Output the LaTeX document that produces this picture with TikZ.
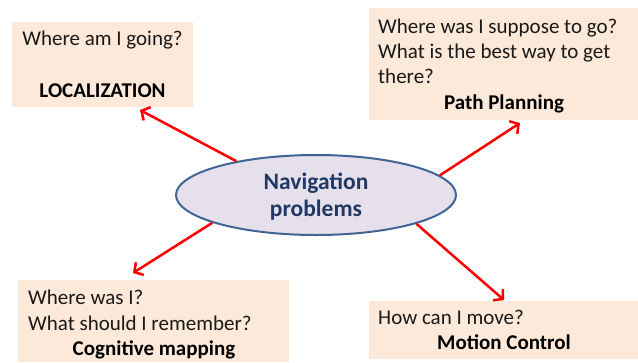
\documentclass[tikz,border=0pt]{standalone}
\usepackage{fontspec}
\setmainfont{Carlito}
\usetikzlibrary{arrows.meta,shapes.geometric}
\definecolor{boxfill}{HTML}{FDE9D9}
\definecolor{ellfill}{HTML}{E6E0EC}
\definecolor{elldraw}{RGB}{65,100,150}
\definecolor{navtext}{RGB}{31,56,100}
\definecolor{arrred}{RGB}{255,0,0}
\begin{document}
\begin{tikzpicture}[x=1pt,y=-1pt,
  box/.style={fill=boxfill,draw=none,inner sep=0pt,anchor=north west},
  txt/.style={inner sep=0pt,anchor=base west,font=\fontsize{21}{26}\selectfont,text=black!90},
  ttl/.style={inner sep=0pt,anchor=base,font=\fontsize{21}{26}\selectfont\bfseries,text=black},
  navlbl/.style={inner sep=0pt,anchor=base,font=\fontsize{23.5}{28}\selectfont\bfseries,text=navtext},
  link/.style={draw=arrred,line width=2.5pt,-{Straight Barb[length=6.5pt,width=15pt]}}
]
\useasboundingbox (0,0) rectangle (638,362);
% boxes
\node[box,minimum width=181pt,minimum height=85pt] (loc) at (12,22) {};
\node[box,minimum width=269pt,minimum height=112pt] (path) at (369,8) {};
\node[box,minimum width=271pt,minimum height=82pt] (cog) at (18,280) {};
\node[box,minimum width=269pt,minimum height=58pt] (mot) at (369,301) {};
% texts
\node[txt,anchor=base] (locq) at (102.5,45) {Where am I going?};
\node[ttl] (loct) at (102.5,97) {LOCALIZATION};
\node[txt] (pathq1) at (378,33) {Where was I suppose to go?};
\node[txt] (pathq2) at (378,58) {What is the best way to get};
\node[txt] (pathq3) at (378,83) {there?};
\node[ttl] (patht) at (504,109) {Path Planning};
\node[txt] (cogq1) at (28,304) {Where was I?};
\node[txt] (cogq2) at (28,330) {What should I remember?};
\node[ttl] (cogt) at (154,355) {Cognitive mapping};
\node[txt] (motq) at (378,324) {How can I move?};
\node[ttl] (mott) at (504,349) {Motion Control};
% central ellipse
\node[ellipse,fill=ellfill,draw=elldraw,line width=2pt,minimum width=280pt,minimum height=80pt,inner sep=0pt] (nav) at (316,195) {};
\node[navlbl] (navt1) at (316,189) {Navigation};
\node[navlbl] (navt2) at (316,216) {problems};
% arrow ends
\coordinate (tloc) at (140,110);
\coordinate (tpath) at (520,123);
\coordinate (tcog) at (133,273);
\coordinate (tmot) at (504,300);
\draw[link] (nav.157) -- (tloc);
\draw[link] (nav.9) -- (tpath);
\draw[link] (nav.195) -- (tcog);
\draw[link] (nav.344) -- (tmot);
\end{tikzpicture}
\end{document}
